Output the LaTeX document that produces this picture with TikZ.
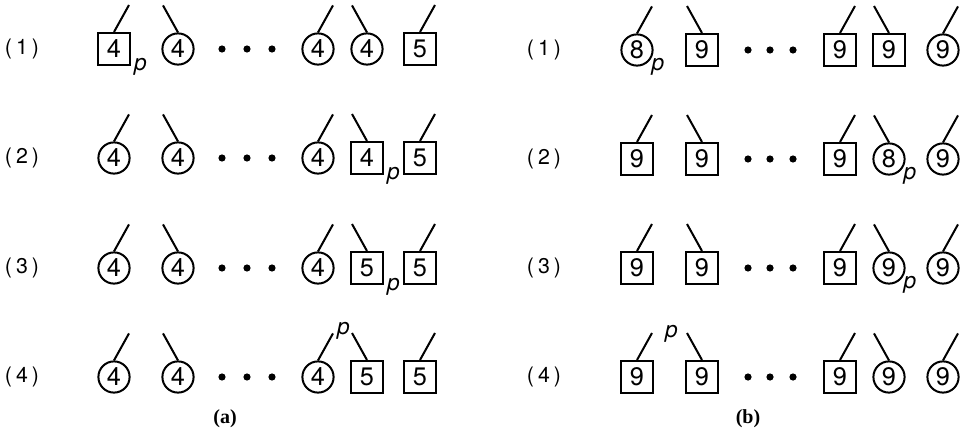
\documentclass[tikz,border=0pt]{standalone}
\usepackage{fontspec}
\setmainfont{Liberation Serif}
\setsansfont{TeX Gyre Heros}
\usetikzlibrary{calc}
\tikzset{
  every picture/.style={line width=1.5pt},
  sq/.style={draw, rectangle, minimum size=24pt, inner sep=0pt, font=\sffamily\fontsize{19}{19}\selectfont},
  ci/.style={draw, circle, minimum size=23.4pt, inner sep=0pt, font=\sffamily\fontsize{19}{19}\selectfont},
  dot/.style={fill, circle, minimum size=5.4pt, inner sep=0pt},
  rowlabel/.style={font=\sffamily\fontsize{16}{16}\selectfont},
  pmark/.style={font=\sffamily\itshape\fontsize{17}{17}\selectfont, inner sep=0pt},
  caption/.style={font=\bfseries\fontsize{15}{15}\selectfont},
}
% one cell: name, shape, position, digit, lean of its stem (1 right, -1 left)
\newcommand{\cell}[5]{%
  \node[#2] (#1) at (#3) {#4};
  \coordinate (#1-tip) at ($(#1.north)+(#5*15,-27)$);
  \draw (#1.north) -- (#1-tip);
}
\newcommand{\rlab}[1]{(\hspace{3pt}#1\hspace{3pt})}

\begin{document}
\begin{tikzpicture}[x=0.75pt, y=-0.75pt]
  \useasboundingbox (0,0) rectangle (965,435);
  % panel (a): digit 4 moving through
  \node[rowlabel] (a1l) at (22,49) {\rlab{1}};
  \foreach \pos/\kind/\xx/\dig/\lean in {1/sq/114/4/1, 2/ci/178/4/-1, 4/ci/318/4/1, 5/ci/367/4/-1, 6/sq/420/5/1}
    {\cell{a1\pos}{\kind}{\xx,49}{\dig}{\lean}}
  \foreach \xx [count=\j] in {222,247,272} \node[dot] (a1d\j) at (\xx,49) {};
  \node[pmark, anchor=base west] (a1p) at ($(a11.south east)+(2,5)$) {p};
  \node[rowlabel] (a2l) at (22,158) {\rlab{2}};
  \foreach \pos/\kind/\xx/\dig/\lean in {1/ci/114/4/1, 2/ci/178/4/-1, 4/ci/318/4/1, 5/sq/367/4/-1, 6/sq/420/5/1}
    {\cell{a2\pos}{\kind}{\xx,158}{\dig}{\lean}}
  \foreach \xx [count=\j] in {222,247,272} \node[dot] (a2d\j) at (\xx,158) {};
  \node[pmark, anchor=base west] (a2p) at ($(a25.south east)+(2,5)$) {p};
  \node[rowlabel] (a3l) at (22,268) {\rlab{3}};
  \foreach \pos/\kind/\xx/\dig/\lean in {1/ci/114/4/1, 2/ci/178/4/-1, 4/ci/318/4/1, 5/sq/367/5/-1, 6/sq/420/5/1}
    {\cell{a3\pos}{\kind}{\xx,268}{\dig}{\lean}}
  \foreach \xx [count=\j] in {222,247,272} \node[dot] (a3d\j) at (\xx,268) {};
  \node[pmark, anchor=base west] (a3p) at ($(a35.south east)+(2,5)$) {p};
  \node[rowlabel] (a4l) at (22,377) {\rlab{4}};
  \foreach \pos/\kind/\xx/\dig/\lean in {1/ci/114/4/1, 2/ci/178/4/-1, 4/ci/318/4/1, 5/sq/367/5/-1, 6/sq/420/5/1}
    {\cell{a4\pos}{\kind}{\xx,377}{\dig}{\lean}}
  \foreach \xx [count=\j] in {222,247,272} \node[dot] (a4d\j) at (\xx,377) {};
  \node[pmark, anchor=base] (a4p) at ($(a44-tip)!0.5!(a45-tip)+(1,1)$) {p};
  \node[caption] (capa) at (225,419) {(a)};
  % panel (b): digit 8 moving through
  \node[rowlabel] (b1l) at (544,50) {\rlab{1}};
  \foreach \pos/\kind/\xx/\dig/\lean in {1/ci/637/8/1, 2/sq/702/9/-1, 4/sq/840/9/1, 5/sq/889/9/-1, 6/ci/943/9/1}
    {\cell{b1\pos}{\kind}{\xx,50}{\dig}{\lean}}
  \foreach \xx [count=\j] in {748,770,793} \node[dot] (b1d\j) at (\xx,50) {};
  \node[pmark, anchor=base west] (b1p) at ($(b11.south east)+(2,9)$) {p};
  \node[rowlabel] (b2l) at (544,159) {\rlab{2}};
  \foreach \pos/\kind/\xx/\dig/\lean in {1/sq/637/9/1, 2/sq/702/9/-1, 4/sq/840/9/1, 5/ci/889/8/-1, 6/ci/943/9/1}
    {\cell{b2\pos}{\kind}{\xx,159}{\dig}{\lean}}
  \foreach \xx [count=\j] in {748,770,793} \node[dot] (b2d\j) at (\xx,159) {};
  \node[pmark, anchor=base west] (b2p) at ($(b25.south east)+(2,9)$) {p};
  \node[rowlabel] (b3l) at (544,268) {\rlab{3}};
  \foreach \pos/\kind/\xx/\dig/\lean in {1/sq/637/9/1, 2/sq/702/9/-1, 4/sq/840/9/1, 5/ci/889/9/-1, 6/ci/943/9/1}
    {\cell{b3\pos}{\kind}{\xx,268}{\dig}{\lean}}
  \foreach \xx [count=\j] in {748,770,793} \node[dot] (b3d\j) at (\xx,268) {};
  \node[pmark, anchor=base west] (b3p) at ($(b35.south east)+(2,9)$) {p};
  \node[rowlabel] (b4l) at (544,377) {\rlab{4}};
  \foreach \pos/\kind/\xx/\dig/\lean in {1/sq/637/9/1, 2/sq/702/9/-1, 4/sq/840/9/1, 5/ci/889/9/-1, 6/ci/943/9/1}
    {\cell{b4\pos}{\kind}{\xx,377}{\dig}{\lean}}
  \foreach \xx [count=\j] in {748,770,793} \node[dot] (b4d\j) at (\xx,377) {};
  \node[pmark, anchor=base] (b4p) at ($(b41-tip)!0.5!(b42-tip)+(2,4)$) {p};
  \node[caption] (capb) at (748,419) {(b)};
\end{tikzpicture}
\end{document}
